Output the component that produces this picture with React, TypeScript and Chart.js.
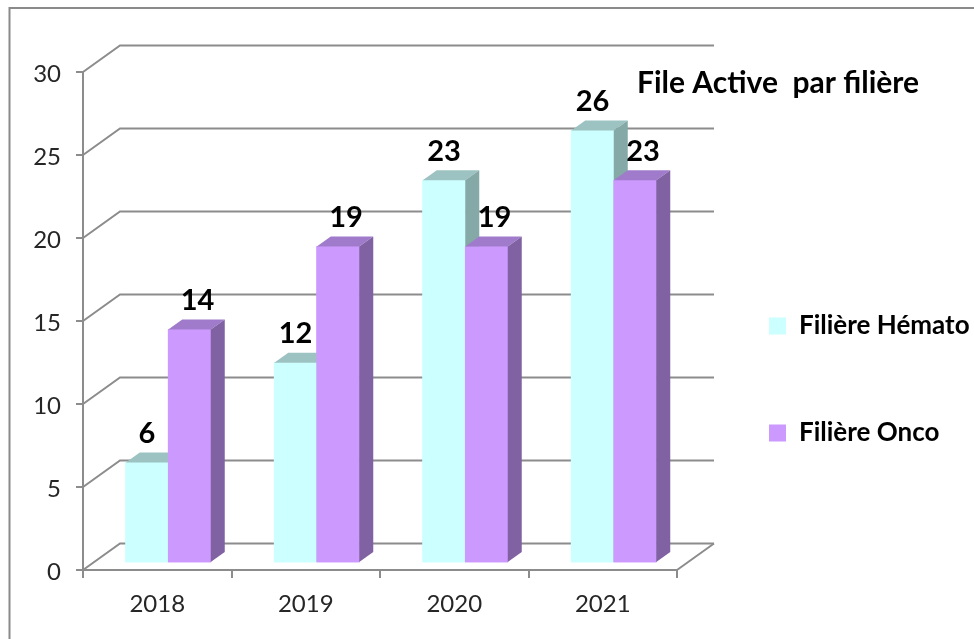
import React, { useEffect, useRef } from 'react';
import { Chart, registerables } from 'chart.js';

Chart.register(...registerables);

// ---- data ----
const categories = ['2018', '2019', '2020', '2021'];
const hematoValues = [6, 12, 23, 26];
const oncoValues = [14, 19, 19, 23];
const seriesNames = ['Filière Hémato', 'Filière Onco'];
const yMin = 0;
const yMax = 30;
const yStep = 5;
const titleText = 'File Active  par filière';

// ---- styles / geometry ----
const FONT = 'Lato';
const GRID = '#8c8c8c';
const TEXT = '#262626';
const DEPTH = { x: 37, y: -26.5 }; // full depth of the 3D box
const FRONT = { x: 11, y: 8 }; // bars' front plane offset from the front axis plane
const BAR_DEPTH = { x: 14, y: -10 }; // depth of each bar
const CANVAS_W = 974;
const CANVAS_H = 639;
const PLOT_LEFT = 83;
const PLOT_TOP = 72;
const PLOT_W = 594;
const PLOT_H = 498;
const faceColors = [
  { front: '#CCFFFF', top: '#9CC3C1', side: '#84A9A7' },
  { front: '#CC99FF', top: '#A07BCB', side: '#8062A2' },
];
const LABEL_DX = [0, 8];
const LABEL_DY = 29;
const LEGEND_FONT = 26;
const LEGEND_BOX = 17;
const LEGEND_PAD = 81;
const LEGEND_FIRST_CENTER = 326;
const R_GAP = 11;

const catWidth = PLOT_W / categories.length;
const xShift = FRONT.x / catWidth;
const yShift = (FRONT.y * (yMax - yMin)) / PLOT_H;

const threeDPlugin = {
  id: 'threeD',
  beforeDraw(chart: any) {
    const ctx = chart.ctx;
    ctx.save();
    ctx.strokeStyle = '#8a8a8a';
    ctx.lineWidth = 2;
    ctx.beginPath();
    ctx.moveTo(9.5, chart.height + 10);
    ctx.lineTo(9.5, 8);
    ctx.lineTo(chart.width + 10, 8);
    ctx.stroke();
    ctx.restore();
  },
  beforeDatasetsDraw(chart: any) {
    const { ctx, chartArea, scales } = chart;
    const y = scales.y;
    ctx.save();
    ctx.strokeStyle = GRID;
    ctx.lineWidth = 2;
    y.ticks.forEach((t: any) => {
      const py = y.getPixelForValue(t.value);
      ctx.beginPath();
      ctx.moveTo(chartArea.left, py);
      ctx.lineTo(chartArea.left + DEPTH.x, py + DEPTH.y);
      ctx.lineTo(chartArea.right + DEPTH.x, py + DEPTH.y);
      ctx.stroke();
    });
    const p0 = y.getPixelForValue(yMin);
    ctx.beginPath();
    ctx.moveTo(chartArea.right, p0);
    ctx.lineTo(chartArea.right + DEPTH.x, p0 + DEPTH.y);
    ctx.stroke();
    ctx.restore();
  },
  afterDatasetsDraw(chart: any) {
    const ctx = chart.ctx;
    const metas = chart.data.datasets.map((_: any, d: number) => chart.getDatasetMeta(d));
    for (let i = 0; i < categories.length; i++) {
      metas.forEach((meta: any, d: number) => {
        const el = meta.data[i];
        if (!el) return;
        const { x, y, base, width } = el.getProps(['x', 'y', 'base', 'width'], true);
        const L = x - width / 2;
        const R = x + width / 2;
        el.draw(ctx);
        ctx.save();
        ctx.fillStyle = faceColors[d].top;
        ctx.beginPath();
        ctx.moveTo(L, y);
        ctx.lineTo(R, y);
        ctx.lineTo(R + BAR_DEPTH.x, y + BAR_DEPTH.y);
        ctx.lineTo(L + BAR_DEPTH.x, y + BAR_DEPTH.y);
        ctx.closePath();
        ctx.fill();
        ctx.fillStyle = faceColors[d].side;
        ctx.beginPath();
        ctx.moveTo(R, y);
        ctx.lineTo(R + BAR_DEPTH.x, y + BAR_DEPTH.y);
        ctx.lineTo(R + BAR_DEPTH.x, base + BAR_DEPTH.y);
        ctx.lineTo(R, base);
        ctx.closePath();
        ctx.fill();
        ctx.restore();
      });
    }
    ctx.save();
    ctx.font = `bold 29px ${FONT}`;
    ctx.fillStyle = '#000';
    ctx.textAlign = 'center';
    ctx.textBaseline = 'middle';
    metas.forEach((meta: any, d: number) => {
      meta.data.forEach((el: any, i: number) => {
        const v = chart.data.datasets[d].data[i].y;
        ctx.fillText(String(v), el.x + LABEL_DX[d], el.y - LABEL_DY);
      });
    });
    ctx.restore();
  },
  afterDraw(chart: any) {
    const ctx = chart.ctx;
    const { chartArea } = chart;
    ctx.save();
    ctx.font = `bold 30px ${FONT}`;
    ctx.fillStyle = '#000';
    ctx.textAlign = 'left';
    ctx.textBaseline = 'alphabetic';
    ctx.fillText(titleText, chartArea.left + 554, chartArea.top + 21);
    ctx.restore();
  },
};

export default function App() {
  const ref = useRef<HTMLCanvasElement | null>(null);

  useEffect(() => {
    if (!ref.current) return;
    const mctx = document.createElement('canvas').getContext('2d') as CanvasRenderingContext2D;
    mctx.font = `bold ${LEGEND_FONT}px ${FONT}`;
    const tw = Math.max(...seriesNames.map((s) => mctx.measureText(s).width));
    const legendW = LEGEND_PAD + LEGEND_BOX + LEGEND_FONT / 2 + tw + 10;
    const padRight = CANVAS_W - (PLOT_LEFT + PLOT_W) - R_GAP - legendW;
    const legendTitleH = LEGEND_FIRST_CENTER - LEGEND_FONT / 2 - LEGEND_PAD - PLOT_TOP;

    const mk = (vals: number[]) => vals.map((v, i) => ({ x: i, y: v }));
    const chart = new Chart(ref.current, {
      type: 'bar',
      data: {
        labels: categories,
        datasets: [
          {
            label: seriesNames[0],
            data: mk(hematoValues) as any,
            backgroundColor: faceColors[0].front,
            borderWidth: 0,
            xAxisID: 'xb',
            yAxisID: 'yb',
            barThickness: 42.5,
          },
          {
            label: seriesNames[1],
            data: mk(oncoValues) as any,
            backgroundColor: faceColors[1].front,
            borderWidth: 0,
            xAxisID: 'xb',
            yAxisID: 'yb',
            barThickness: 42.5,
          },
        ],
      },
      options: {
        responsive: false,
        animation: false,
        devicePixelRatio: 1,
        events: [],
        layout: { padding: { left: PLOT_LEFT - 50, right: padRight, top: PLOT_TOP, bottom: CANVAS_H - PLOT_TOP - PLOT_H - 60 } },
        scales: {
          x: {
            type: 'category',
            position: 'bottom',
            offset: true,
            grid: { offset: true, drawOnChartArea: false, drawTicks: true, tickLength: 8, color: GRID, lineWidth: 2 },
            border: { display: true, color: GRID, width: 2 },
            ticks: { font: { family: FONT, size: 24 }, color: TEXT, padding: 12 },
            afterFit: (s: any) => {
              s.height = 60;
            },
          },
          y: {
            type: 'linear',
            position: 'left',
            min: yMin,
            max: yMax,
            grid: { drawOnChartArea: false, drawTicks: true, tickLength: 7, color: GRID, lineWidth: 2 },
            border: { display: true, color: GRID, width: 2 },
            ticks: { stepSize: yStep, font: { family: FONT, size: 24 }, color: TEXT, padding: 15, labelOffset: 2 },
            afterFit: (s: any) => {
              s.width = 50;
            },
          },
          xb: {
            type: 'linear',
            display: false,
            offset: false,
            min: -0.5 - xShift,
            max: categories.length - 0.5 - xShift,
          },
          yb: {
            type: 'linear',
            display: false,
            beginAtZero: false,
            min: yMin - yShift,
            max: yMax - yShift,
          },
          r: {
            type: 'linear',
            position: 'right',
            display: true,
            grid: { display: false, drawTicks: false },
            ticks: { display: false },
            border: { display: false },
            afterFit: (s: any) => {
              s.width = R_GAP;
            },
          },
        } as any,
        plugins: {
          tooltip: { enabled: false },
          title: { display: false },
          legend: {
            display: true,
            position: 'right',
            align: 'start',
            fullSize: false,
            maxWidth: CANVAS_W,
            title: { display: true, text: '', font: { size: 12, lineHeight: 1 }, padding: { top: legendTitleH - 12, bottom: 0 } },
            labels: {
              boxWidth: LEGEND_BOX,
              boxHeight: LEGEND_BOX,
              padding: LEGEND_PAD,
              color: '#000',
              font: { family: FONT, size: LEGEND_FONT, weight: 'bold' },
            },
          } as any,
        },
      },
      plugins: [threeDPlugin],
    });
    return () => chart.destroy();
  }, []);

  return (
    <div style={{ position: 'absolute', left: 0, top: 0, width: CANVAS_W, height: CANVAS_H, background: '#fff', overflow: 'hidden' }}>
      <canvas ref={ref} width={CANVAS_W} height={CANVAS_H} style={{ display: 'block', width: CANVAS_W, height: CANVAS_H }} />
    </div>
  );
}
